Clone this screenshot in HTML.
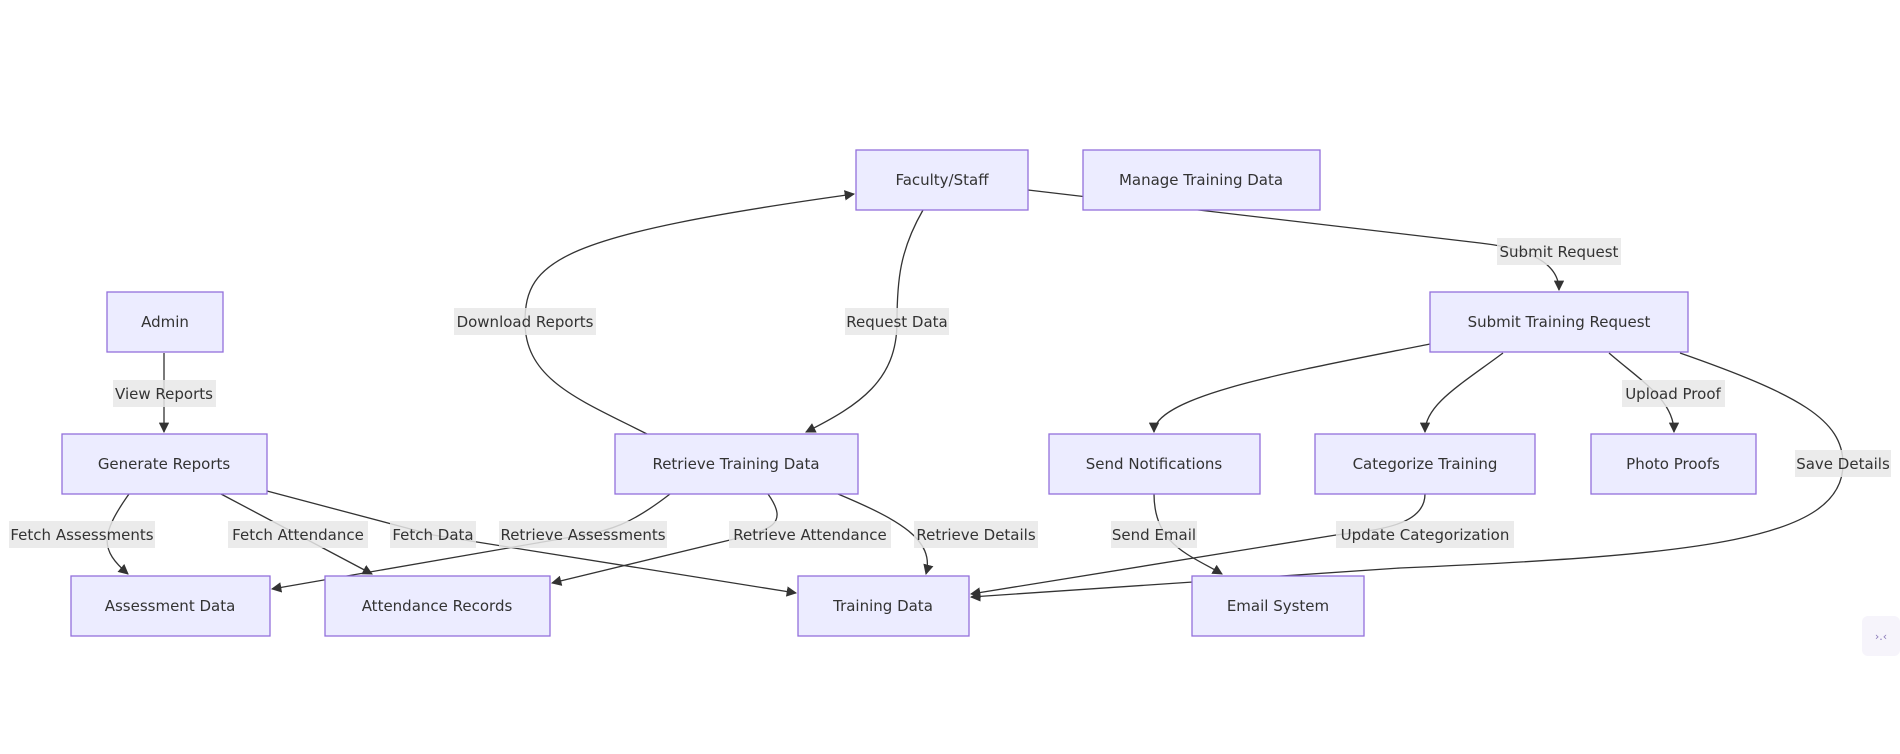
<!DOCTYPE html>
<html><head><meta charset="utf-8"><style>
html,body{margin:0;padding:0;background:#fff;}
svg{display:block;}
text{font-family:"DejaVu Sans","Liberation Sans",sans-serif;font-size:15px;fill:#333;}
.n{fill:#ECECFF;stroke:#9370DB;stroke-width:1.3;}
.e{fill:none;stroke:#333;stroke-width:1.3;}
.lb{fill:#e8e8e8;opacity:0.85;}
</style></head><body>
<svg width="1900" height="754" viewBox="0 0 1900 754" xmlns="http://www.w3.org/2000/svg">
<defs><marker id="a" viewBox="0 0 10 10" refX="9" refY="5" markerWidth="8" markerHeight="8" orient="auto"><path d="M0,0L10,5L0,10z" fill="#333"/></marker></defs>
<!-- edges -->
<path class="e" d="M164,353L164,432" marker-end="url(#a)"/>
<path class="e" d="M923,210C900,250 897,280 897,322C897,380 860,405 806,432" marker-end="url(#a)"/>
<path class="e" d="M647,434C580,400 525,380 525,322C525,260 560,235 854,194" marker-end="url(#a)"/>
<path class="e" d="M1028,190L1480,243Q1559,252 1559,290" marker-end="url(#a)"/>
<path class="e" d="M1430,344C1300,370 1154,395 1154,432" marker-end="url(#a)"/>
<path class="e" d="M1503,353C1460,385 1425,405 1425,432" marker-end="url(#a)"/>
<path class="e" d="M1609,353C1640,380 1674,400 1674,432" marker-end="url(#a)"/>
<path class="e" d="M1680,353C1800,395 1843,420 1843,464C1843,540 1700,555 1400,568L971,597" marker-end="url(#a)"/>
<path class="e" d="M1425,494C1425,525 1380,530 1336,535L971,594" marker-end="url(#a)"/>
<path class="e" d="M1154,494C1154,545 1190,555 1222,574" marker-end="url(#a)"/>
<path class="e" d="M129,494C100,535 100,550 128,574" marker-end="url(#a)"/>
<path class="e" d="M221,494L372,574" marker-end="url(#a)"/>
<path class="e" d="M267,491L433,535L796,593" marker-end="url(#a)"/>
<path class="e" d="M670,494C630,525 610,530 583,535L272,589" marker-end="url(#a)"/>
<path class="e" d="M768,494C790,525 770,530 730,540L552,583" marker-end="url(#a)"/>
<path class="e" d="M838,494C900,520 935,540 926,574" marker-end="url(#a)"/>
<!-- nodes -->
<rect class="n" x="856" y="150" width="172" height="60"/><text x="942" y="185" text-anchor="middle">Faculty/Staff</text>
<rect class="n" x="1083" y="150" width="237" height="60"/><text x="1201" y="185" text-anchor="middle">Manage Training Data</text>
<rect class="n" x="107" y="292" width="116" height="60"/><text x="165" y="327" text-anchor="middle">Admin</text>
<rect class="n" x="1430" y="292" width="258" height="60"/><text x="1559" y="327" text-anchor="middle">Submit Training Request</text>
<rect class="n" x="62" y="434" width="205" height="60"/><text x="164" y="469" text-anchor="middle">Generate Reports</text>
<rect class="n" x="615" y="434" width="243" height="60"/><text x="736" y="469" text-anchor="middle">Retrieve Training Data</text>
<rect class="n" x="1049" y="434" width="211" height="60"/><text x="1154" y="469" text-anchor="middle">Send Notifications</text>
<rect class="n" x="1315" y="434" width="220" height="60"/><text x="1425" y="469" text-anchor="middle">Categorize Training</text>
<rect class="n" x="1591" y="434" width="165" height="60"/><text x="1673" y="469" text-anchor="middle">Photo Proofs</text>
<rect class="n" x="71" y="576" width="199" height="60"/><text x="170" y="611" text-anchor="middle">Assessment Data</text>
<rect class="n" x="325" y="576" width="225" height="60"/><text x="437" y="611" text-anchor="middle">Attendance Records</text>
<rect class="n" x="798" y="576" width="171" height="60"/><text x="883" y="611" text-anchor="middle">Training Data</text>
<rect class="n" x="1192" y="576" width="172" height="60"/><text x="1278" y="611" text-anchor="middle">Email System</text>
<!-- labels -->
<g>
<rect class="lb" x="113" y="380" width="103" height="27"/><text x="164" y="399" text-anchor="middle">View Reports</text>
<rect class="lb" x="454" y="308" width="142" height="27"/><text x="525" y="327" text-anchor="middle">Download Reports</text>
<rect class="lb" x="845" y="308" width="104" height="27"/><text x="897" y="327" text-anchor="middle">Request Data</text>
<rect class="lb" x="1497" y="238" width="124" height="27"/><text x="1559" y="257" text-anchor="middle">Submit Request</text>
<rect class="lb" x="1622" y="380" width="103" height="27"/><text x="1673" y="399" text-anchor="middle">Upload Proof</text>
<rect class="lb" x="1795" y="450" width="96" height="27"/><text x="1843" y="469" text-anchor="middle">Save Details</text>
<rect class="lb" x="9" y="521" width="146" height="27"/><text x="82" y="540" text-anchor="middle">Fetch Assessments</text>
<rect class="lb" x="228" y="521" width="140" height="27"/><text x="298" y="540" text-anchor="middle">Fetch Attendance</text>
<rect class="lb" x="390" y="521" width="86" height="27"/><text x="433" y="540" text-anchor="middle">Fetch Data</text>
<rect class="lb" x="499" y="521" width="168" height="27"/><text x="583" y="540" text-anchor="middle">Retrieve Assessments</text>
<rect class="lb" x="729" y="521" width="162" height="27"/><text x="810" y="540" text-anchor="middle">Retrieve Attendance</text>
<rect class="lb" x="914" y="521" width="124" height="27"/><text x="976" y="540" text-anchor="middle">Retrieve Details</text>
<rect class="lb" x="1111" y="521" width="86" height="27"/><text x="1154" y="540" text-anchor="middle">Send Email</text>
<rect class="lb" x="1336" y="521" width="178" height="27"/><text x="1425" y="540" text-anchor="middle">Update Categorization</text>
</g>
<rect x="1862" y="616" width="38" height="40" rx="6" fill="#f6f4fb"/>
<text x="1881" y="640" text-anchor="middle" style="font-size:11px;fill:#8a7ab8">›.‹</text>
</svg>
</body></html>
